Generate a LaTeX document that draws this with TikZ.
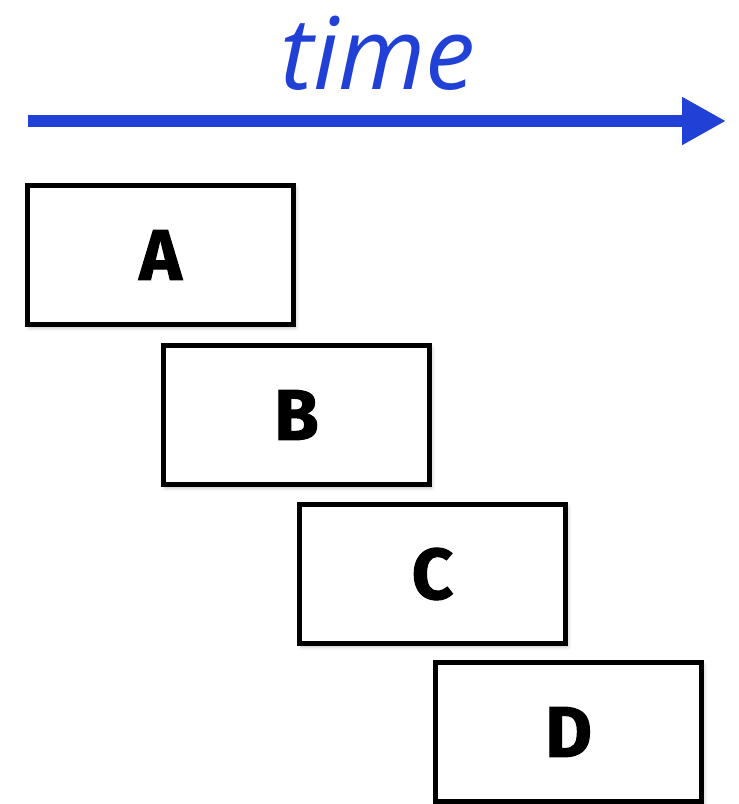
\documentclass[tikz,border=0pt]{standalone}
\usepackage{fontspec}
\setmainfont{Open Sans}
\newfontfamily\stagefont[FakeBold=1.4]{Fira Sans}
\usetikzlibrary{arrows.meta,shadows.blur}
\definecolor{timeblue}{RGB}{33,64,214}
\tikzset{
  stage/.style={draw=black, line width=5pt, fill=white,
    minimum width=266pt, minimum height=139pt, inner sep=0pt,
    blur shadow={shadow xshift=2pt, shadow yshift=-3pt, shadow blur radius=4pt, shadow opacity=30},
    font=\fontsize{72}{72}\selectfont\stagefont\bfseries},
  timeaxis/.style={draw=timeblue, line width=12pt,
    -{Triangle[length=44pt,width=45pt]}},
  timelabel/.style={text=timeblue, font=\fontsize{100}{100}\selectfont\itshape, inner sep=0pt}
}
\begin{document}
\begin{tikzpicture}[x=1pt,y=-1pt]
  \useasboundingbox (0,0) rectangle (739,804);
  % time axis and its label
  \node[timelabel] (lbl) at (378,53) {time};
  \coordinate (t0) at (28,121);
  \coordinate (t1) at (726,121);
  \draw[timeaxis] (t0) -- (t1);
  % staggered stages
  \node[stage] (A) at (160.5,255) {\raisebox{-4pt}{A}};
  \node[stage] (B) at (296.5,415) {\raisebox{-4pt}{B}};
  \node[stage] (C) at (432.5,574) {\raisebox{-4pt}{C}};
  \node[stage] (D) at (568.5,732) {\raisebox{-4pt}{D}};
\end{tikzpicture}
\end{document}
